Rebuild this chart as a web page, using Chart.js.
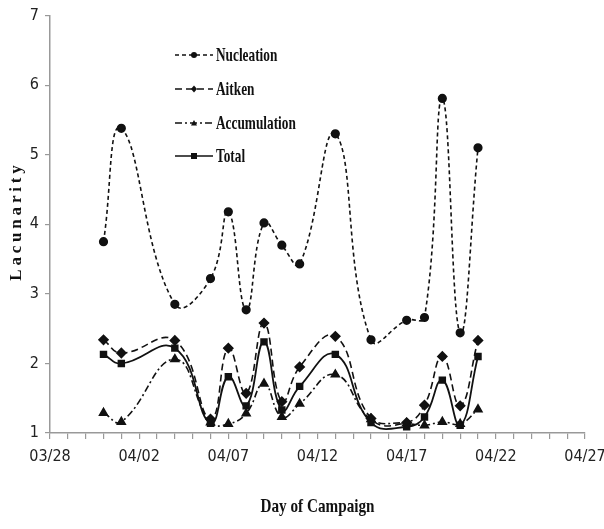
<!DOCTYPE html>
<html>
<head>
<meta charset="utf-8">
<script src="https://cdn.jsdelivr.net/npm/chart.js@4/dist/chart.umd.min.js"></script>
<style>
  html, body { margin: 0; padding: 0; background: #fff; }
  #wrap { width: 604px; height: 529px; }
</style>
</head>
<body>
<div id="wrap"><canvas id="mychart" width="604" height="529"></canvas></div>
<script>
// sampling days and lacunarity per mode
var days = ['03/31','04/01','04/04','04/06','04/07','04/08','04/09','04/10','04/11','04/13','04/15','04/17','04/18','04/19','04/20','04/21']
var nucleation = [3.75,5.38,2.85,3.22,4.18,2.77,4.02,3.70,3.43,5.30,2.34,2.62,2.66,5.81,2.44,5.10]
var aitken = [2.34,2.15,2.33,1.20,2.22,1.57,2.58,1.45,1.95,2.39,1.21,1.15,1.40,2.10,1.39,2.33]
var accumulation = [1.29,1.16,2.06,1.15,1.13,1.28,1.71,1.23,1.42,1.84,1.20,1.14,1.11,1.16,1.13,1.34]
var total = [2.13,2.00,2.22,1.14,1.81,1.39,2.31,1.33,1.67,2.13,1.15,1.09,1.23,1.76,1.11,2.10]
var xTickLabels = ['03/28','04/02','04/07','04/12','04/17','04/22','04/27']
var yTicks = [1,2,3,4,5,6,7]

// day number counted from 03/28
function dayIndex(s) {
    var m = parseInt(s.split('/')[0], 10)
    var d = parseInt(s.split('/')[1], 10)
    return m === 3 ? d - 28 : d + 3
}
function pts(vals) {
    return vals.map(function (v, i) { return { x: dayIndex(days[i]), y: v } })
}

var tickFont = "'Liberation Sans Narrow', 'DejaVu Sans Condensed', sans-serif"
var titleFont = "'Liberation Serif', 'Times New Roman', serif"

function drawMarker(ctx, style, x, y, r) {
    ctx.beginPath()
    if (style === 'circle') {
        ctx.arc(x, y, r, 0, Math.PI * 2)
    } else if (style === 'rectRot') {
        ctx.moveTo(x, y - r * 1.2); ctx.lineTo(x + r, y); ctx.lineTo(x, y + r * 1.2); ctx.lineTo(x - r, y)
    } else if (style === 'triangle') {
        ctx.moveTo(x, y - r); ctx.lineTo(x + r, y + r * 0.8); ctx.lineTo(x - r, y + r * 0.8)
    } else {
        ctx.rect(x - r, y - r, r * 2, r * 2)
    }
    ctx.closePath()
    ctx.fill()
}

var decor = {
    id: 'decor',
    afterDatasetsDraw: function (chart) {
        var ctx = chart.ctx
        var area = chart.chartArea
        ctx.save()
        ctx.fillStyle = '#111'
        ctx.strokeStyle = '#111'

        // legend inside the plot
        var rowY = [55, 89, 123, 156]
        chart.data.datasets.forEach(function (ds, i) {
            var y = rowY[i]
            ctx.save()
            ctx.lineWidth = 1.6
            ctx.setLineDash(ds.borderDash || [])
            ctx.beginPath(); ctx.moveTo(175, y); ctx.lineTo(213, y); ctx.stroke()
            ctx.restore()
            drawMarker(ctx, ds.pointStyle, 194, y, 3)
            ctx.save()
            ctx.translate(216, y)
            ctx.scale(0.7, 1)
            ctx.font = 'bold 19px ' + titleFont
            ctx.textBaseline = 'middle'
            ctx.fillText(ds.label, 0, 1)
            ctx.restore()
        })

        // x axis title
        ctx.save()
        ctx.translate((area.left + area.right) / 2, 507)
        ctx.scale(0.8, 1)
        ctx.font = 'bold 19px ' + titleFont
        ctx.textAlign = 'center'
        ctx.textBaseline = 'middle'
        ctx.fillText('Day of Campaign', 0, 0)
        ctx.restore()

        // y axis title, letter spaced
        ctx.save()
        ctx.translate(17, 223)
        ctx.rotate(-Math.PI / 2)
        ctx.font = 'bold 17px ' + titleFont
        ctx.textBaseline = 'middle'
        var word = 'Lacunarity'
        var sp = 3.8
        var w = 0
        for (var k = 0; k < word.length; k++) w += ctx.measureText(word[k]).width + (k ? sp : 0)
        var cx = -w / 2
        for (var k = 0; k < word.length; k++) {
            ctx.fillText(word[k], cx, 0)
            cx += ctx.measureText(word[k]).width + sp
        }
        ctx.restore()
        ctx.restore()
    }
}

var myChart = document.getElementById('mychart').getContext('2d')

var chart = new Chart(myChart, {
    type: 'line',
    data: {
        datasets: [
            {
                label: 'Nucleation',
                data: pts(nucleation),
                borderColor: '#111',
                backgroundColor: '#111',
                borderWidth: 1.6,
                borderDash: [4, 3],
                pointStyle: 'circle',
                pointRadius: 3.8,
            },
            {
                label: 'Aitken',
                data: pts(aitken),
                borderColor: '#111',
                backgroundColor: '#111',
                borderWidth: 1.6,
                borderDash: [7, 4],
                pointStyle: 'rectRot',
                pointRadius: 4.5,
            },
            {
                label: 'Accumulation',
                data: pts(accumulation),
                borderColor: '#111',
                backgroundColor: '#111',
                borderWidth: 1.6,
                borderDash: [7, 3, 2, 3],
                pointStyle: 'triangle',
                pointRadius: 4.5,
            },
            {
                label: 'Total',
                data: pts(total),
                borderColor: '#111',
                backgroundColor: '#111',
                borderWidth: 1.8,
                pointStyle: 'rect',
                pointRadius: 4,
            },
        ],
    },
    options: {
        responsive: false,
        animation: false,
        events: [],
        tension: 0.45,
        layout: { padding: { top: 15, right: 19, left: 0, bottom: 0 } },
        plugins: { legend: { display: false }, tooltip: { enabled: false } },
        scales: {
            x: {
                type: 'linear',
                min: 0,
                max: 30,
                afterFit: function (s) {
                    s.height = 96
                    s.paddingLeft = 0
                    s.paddingRight = 0
                },
                border: { color: '#999', width: 1.5 },
                grid: { drawOnChartArea: false, drawTicks: true, tickLength: 6, color: '#999', lineWidth: 1.2 },
                ticks: {
                    stepSize: 1,
                    autoSkip: false,
                    maxRotation: 0,
                    padding: 8,
                    color: '#222',
                    font: { family: tickFont, size: 16 },
                    callback: function (v) { return v % 5 === 0 ? xTickLabels[v / 5] : '' },
                },
            },
            y: {
                min: yTicks[0],
                max: yTicks[yTicks.length - 1],
                afterFit: function (s) { s.width = 50 },
                border: { color: '#999', width: 1.5 },
                grid: { drawOnChartArea: false, drawTicks: true, tickLength: 5, color: '#999', lineWidth: 1.2 },
                ticks: {
                    stepSize: 1,
                    padding: 6,
                    color: '#222',
                    font: { family: tickFont, size: 16 },
                },
            },
        },
    },
    plugins: [decor],
})
</script>
</body>
</html>
